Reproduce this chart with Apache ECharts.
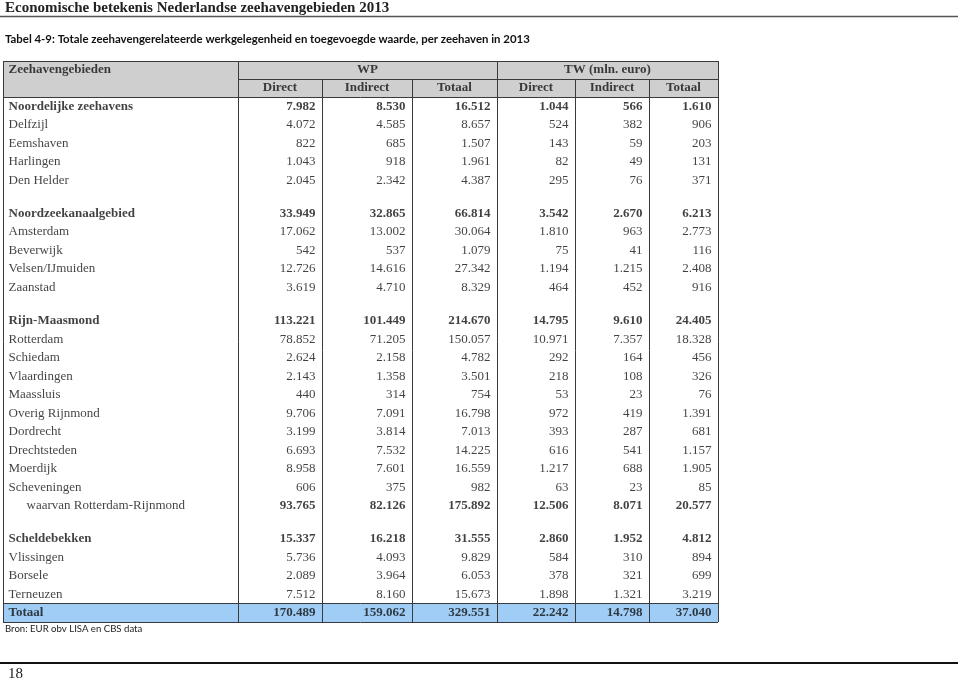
<!DOCTYPE html>
<html>
<head>
<meta charset="utf-8">
<title>Tabel 4-9</title>
<script src="https://cdn.jsdelivr.net/npm/echarts@6/dist/echarts.min.js"></script>
<style>
  html, body { margin: 0; padding: 0; background: #fff; }
  #main { width: 960px; height: 681px; }
</style>
</head>
<body>
<div id="main"></div>
<script>
// rijen van de tabel, '' is een lege scheidingsrij
const rowLabels = [
  'Noordelijke zeehavens', 'Delfzijl', 'Eemshaven', 'Harlingen', 'Den Helder', '',
  'Noordzeekanaalgebied', 'Amsterdam', 'Beverwijk', 'Velsen/IJmuiden', 'Zaanstad', '',
  'Rijn-Maasmond', 'Rotterdam', 'Schiedam', 'Vlaardingen', 'Maassluis', 'Overig Rijnmond',
  'Dordrecht', 'Drechtsteden', 'Moerdijk', 'Scheveningen', 'waarvan Rotterdam-Rijnmond', '',
  'Scheldebekken', 'Vlissingen', 'Borsele', 'Terneuzen', 'Totaal'
]
// WP = werkgelegenheid (personen)
const wpDirect = [7982, 4072, 822, 1043, 2045, null, 33949, 17062, 542, 12726, 3619, null,
  113221, 78852, 2624, 2143, 440, 9706, 3199, 6693, 8958, 606, 93765, null, 15337, 5736, 2089, 7512, 170489]
const wpIndirect = [8530, 4585, 685, 918, 2342, null, 32865, 13002, 537, 14616, 4710, null,
  101449, 71205, 2158, 1358, 314, 7091, 3814, 7532, 7601, 375, 82126, null, 16218, 4093, 3964, 8160, 159062]
const wpTotaal = [16512, 8657, 1507, 1961, 4387, null, 66814, 30064, 1079, 27342, 8329, null,
  214670, 150057, 4782, 3501, 754, 16798, 7013, 14225, 16559, 982, 175892, null, 31555, 9829, 6053, 15673, 329551]
// TW = toegevoegde waarde (mln. euro)
const twDirect = [1044, 524, 143, 82, 295, null, 3542, 1810, 75, 1194, 464, null,
  14795, 10971, 292, 218, 53, 972, 393, 616, 1217, 63, 12506, null, 2860, 584, 378, 1898, 22242]
const twIndirect = [566, 382, 59, 49, 76, null, 2670, 963, 41, 1215, 452, null,
  9610, 7357, 164, 108, 23, 419, 287, 541, 688, 23, 8071, null, 1952, 310, 321, 1321, 14798]
const twTotaal = [1610, 906, 203, 131, 371, null, 6213, 2773, 116, 2408, 916, null,
  24405, 18328, 456, 326, 76, 1391, 681, 1157, 1905, 85, 20577, null, 4812, 894, 699, 3219, 37040]

const groupHeaders = ['WP', 'TW (mln. euro)']
const subHeaders = ['Direct', 'Indirect', 'Totaal', 'Direct', 'Indirect', 'Totaal']

const groupRows = ['Noordelijke zeehavens', 'Noordzeekanaalgebied', 'Rijn-Maasmond', 'Scheldebekken', 'Totaal']
const boldValueRows = groupRows.concat(['waarvan Rotterdam-Rijnmond'])

// opmaak van de tabel (pixels binnen de grid)
const colEdges = [0, 235, 319, 409, 494, 572, 646, 715]
const headerH = 18
const rowH = 18.5
const gapH = 14.7
const serif = '"Liberation Serif", "Times New Roman", serif'

const fmt = (v) => String(v).replace(/\B(?=(\d{3})+(?!\d))/g, '.')

let yCursor = headerH * 2
const rowTop = []
const rowMid = []
rowLabels.forEach((lab) => {
  const h = lab === '' ? gapH : rowH
  rowTop.push(yCursor)
  rowMid.push(yCursor + h / 2)
  yCursor += h
})
const tableH = yCursor
const totalTop = rowTop[rowLabels.length - 1]

const cols = [wpDirect, wpIndirect, wpTotaal, twDirect, twIndirect, twTotaal]

const cellData = []
rowLabels.forEach((lab, r) => {
  if (!lab) return
  const indent = lab.startsWith('waarvan') ? 23 : 5
  cellData.push({
    value: [indent, rowMid[r]],
    label: { formatter: lab, position: 'right', fontWeight: groupRows.includes(lab) ? 'bold' : 'normal' },
  })
  const bold = boldValueRows.includes(lab)
  cols.forEach((col, c) => {
    // kolom c loopt van colEdges[c + 1] tot colEdges[c + 2], rechts uitgelijnd
    cellData.push({
      value: [colEdges[c + 2] - 6, rowMid[r]],
      label: { formatter: fmt(col[r]), position: 'left', fontWeight: bold ? 'bold' : 'normal' },
    })
  })
})

const headerData = [
  { value: [5, headerH / 2], label: { formatter: 'Zeehavengebieden', position: 'right' } },
  { value: [(colEdges[1] + colEdges[4]) / 2, headerH / 2], label: { formatter: groupHeaders[0] } },
  { value: [(colEdges[4] + colEdges[7]) / 2, headerH / 2], label: { formatter: groupHeaders[1] } },
]
subHeaders.forEach((s, c) => {
  headerData.push({ value: [(colEdges[c + 1] + colEdges[c + 2]) / 2, headerH * 1.5], label: { formatter: s } })
})

const seg = (x1, y1, x2, y2) => [{ coord: [x1, y1] }, { coord: [x2, y2] }]
const lines = [
  seg(0, 0, 715, 0),
  seg(colEdges[1], headerH, 715, headerH),
  seg(0, headerH * 2, 715, headerH * 2),
  seg(0, totalTop, 715, totalTop),
  seg(0, tableH, 715, tableH),
  seg(0, 0, 0, tableH),
  seg(715, 0, 715, tableH),
  seg(colEdges[1], 0, colEdges[1], tableH),
  seg(colEdges[4], 0, colEdges[4], tableH),
  seg(colEdges[2], headerH, colEdges[2], tableH),
  seg(colEdges[3], headerH, colEdges[3], tableH),
  seg(colEdges[5], headerH, colEdges[5], tableH),
  seg(colEdges[6], headerH, colEdges[6], tableH),
]

const myChart = echarts.init(document.getElementById('main'), null, { renderer: 'canvas' })

const option = {
  animation: false,
  backgroundColor: '#fff',
  grid: { left: 3, top: 61, width: 715, height: tableH },
  xAxis: { type: 'value', min: 0, max: 715, show: false },
  yAxis: { type: 'value', min: 0, max: tableH, inverse: true, show: false },
  graphic: [
    {
      type: 'text', x: 5, y: 8,
      style: { text: 'Economische betekenis Nederlandse zeehavengebieden 2013', fill: '#222',
        font: 'bold 15px ' + serif, verticalAlign: 'middle' },
    },
    { type: 'line', shape: { x1: 0, y1: 16.5, x2: 958, y2: 16.5 }, style: { stroke: '#555', lineWidth: 1.5 } },
    {
      type: 'text', x: 5, y: 39,
      style: { text: 'Tabel 4-9: Totale zeehavengerelateerde werkgelegenheid en toegevoegde waarde, per zeehaven in 2013',
        fill: '#111', font: 'bold 11.4px Lato, "Liberation Sans", sans-serif', verticalAlign: 'middle' },
    },
    {
      type: 'text', x: 5, y: 629,
      style: { text: 'Bron: EUR obv LISA en CBS data', fill: '#222',
        font: '9.6px Lato, "Liberation Sans", sans-serif', verticalAlign: 'middle' },
    },
    { type: 'line', shape: { x1: 0, y1: 663, x2: 958, y2: 663 }, style: { stroke: '#111', lineWidth: 2 } },
    {
      type: 'text', x: 8, y: 674,
      style: { text: '18', fill: '#222', font: '15px ' + serif, verticalAlign: 'middle' },
    },
  ],
  series: [
    {
      // achtergronden en lijnen
      type: 'scatter',
      z: 1,
      silent: true,
      data: [],
      markArea: {
        silent: true,
        data: [
          [{ coord: [0, 0], itemStyle: { color: '#cfcfcf' } }, { coord: [715, headerH * 2] }],
          [{ coord: [0, totalTop], itemStyle: { color: '#9fcdf6' } }, { coord: [715, tableH] }],
        ],
      },
      markLine: {
        silent: true,
        symbol: 'none',
        label: { show: false },
        lineStyle: { color: '#3a3a3a', width: 1, type: 'solid' },
        data: lines,
      },
    },
    {
      type: 'scatter',
      z: 3,
      silent: true,
      symbolSize: 1,
      itemStyle: { color: 'transparent' },
      label: {
        show: true, position: 'inside', distance: 0,
        fontFamily: serif, fontSize: 13, fontWeight: 'bold', color: '#111',
      },
      data: headerData,
    },
    {
      type: 'scatter',
      z: 3,
      silent: true,
      symbolSize: 1,
      itemStyle: { color: 'transparent' },
      label: {
        show: true, distance: 0,
        fontFamily: serif, fontSize: 13, color: '#111',
      },
      data: cellData,
    },
  ],
}

myChart.setOption(option)
window.addEventListener('resize', () => myChart.resize())
</script>
</body>
</html>
